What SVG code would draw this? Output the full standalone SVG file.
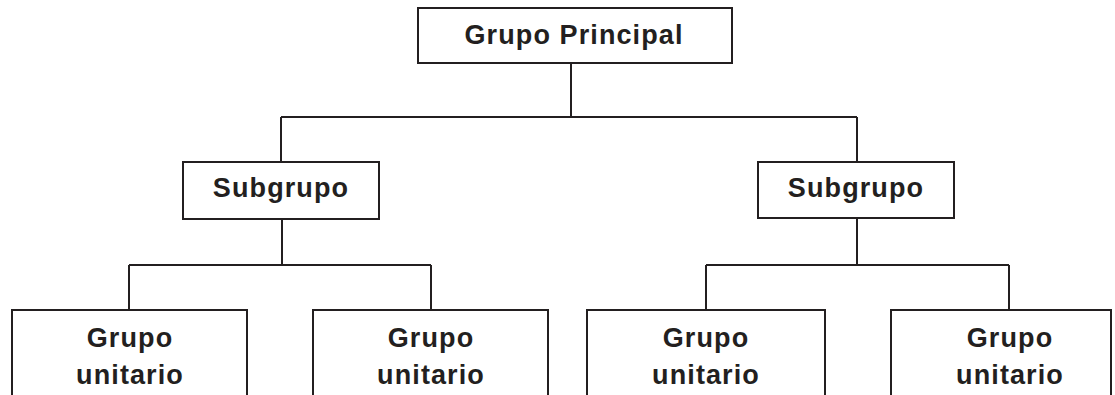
<svg xmlns="http://www.w3.org/2000/svg" width="1115" height="395" viewBox="0 0 1115 395">
<style>
.box{fill:#fff;stroke:#231f20;stroke-width:2}
.ln{fill:none;stroke:#231f20;stroke-width:2}
.t{font-family:"Liberation Sans",Arial,sans-serif;font-weight:bold;font-size:27px;fill:#231f20;text-anchor:middle;letter-spacing:1.1px}
</style>
<rect width="1115" height="395" fill="#fff"/>
<g id="connectors">
<path class="ln" d="M571 63V117M281 117H857M281 117V162M857 117V162"/>
<path class="ln" d="M282 219V265M129 265H431M129 265V310M431 265V310"/>
<path class="ln" d="M857 218V265M706 265H1009M706 265V310M1009 265V310"/>
</g>
<g id="principal"><rect class="box" x="418" y="8" width="314" height="55"/><text class="t" x="574" y="44">Grupo Principal</text></g>
<g id="sub1"><rect class="box" x="183" y="162" width="196" height="57"/><text class="t" x="281" y="197">Subgrupo</text></g>
<g id="sub2"><rect class="box" x="758" y="162" width="196" height="56"/><text class="t" x="856" y="197">Subgrupo</text></g>
<g id="u1"><rect class="box" x="12" y="310" width="235" height="100"/><text class="t" x="130" y="347">Grupo</text><text class="t" x="130" y="384">unitario</text></g>
<g id="u2"><rect class="box" x="313" y="310" width="235" height="100"/><text class="t" x="431" y="347">Grupo</text><text class="t" x="431" y="384">unitario</text></g>
<g id="u3"><rect class="box" x="587" y="310" width="238" height="100"/><text class="t" x="706" y="347">Grupo</text><text class="t" x="706" y="384">unitario</text></g>
<g id="u4"><rect class="box" x="891" y="310" width="220" height="100"/><text class="t" x="1010" y="347">Grupo</text><text class="t" x="1010" y="384">unitario</text></g>
</svg>
